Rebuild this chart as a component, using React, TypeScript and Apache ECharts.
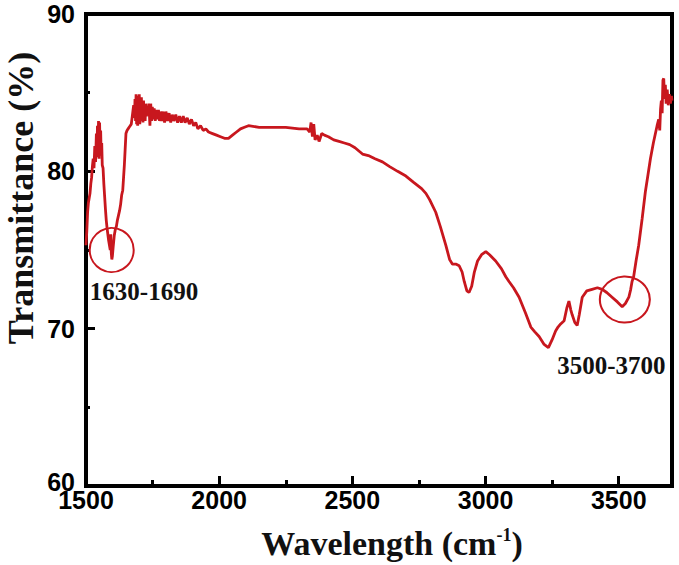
import React, { useEffect, useRef } from "react";
import * as echarts from "echarts";

// Spectrum (wavenumber, cm-1) and transmittance (%)
const WAVENUMBERS: number[] = [
  1500, 1503, 1506, 1509, 1512, 1515, 1518, 1521, 1524, 1527, 1530, 1533, 1536, 1539, 1541, 1543, 1545, 1547, 1549, 1551,
  1553, 1555, 1557, 1559, 1561, 1564, 1567, 1570, 1573, 1576, 1579, 1582, 1585, 1588, 1591, 1593, 1595, 1597, 1599, 1602,
  1606, 1610, 1614, 1618, 1622, 1626, 1630, 1634, 1638, 1641, 1644, 1647, 1650, 1654, 1658, 1662, 1666, 1670, 1673, 1676,
  1679, 1682, 1684, 1686, 1688, 1690, 1692, 1694, 1696, 1698, 1700, 1702, 1704, 1706, 1708, 1710, 1712, 1714, 1716, 1718,
  1720, 1722, 1724, 1727, 1730, 1733, 1736, 1740, 1743, 1746, 1749, 1752, 1756, 1760, 1764, 1768, 1772, 1776, 1780, 1785,
  1790, 1795, 1800, 1806, 1812, 1818, 1824, 1830, 1837, 1844, 1851, 1858, 1865, 1872, 1880, 1888, 1896, 1904, 1912, 1920,
  1930, 1940, 1950, 1960, 1975, 1990, 2005, 2020, 2035, 2050, 2065, 2080, 2095, 2110, 2150, 2200, 2250, 2300, 2330, 2340,
  2345, 2350, 2355, 2360, 2368, 2375, 2385, 2395, 2410, 2430, 2450, 2470, 2490, 2510, 2538, 2560, 2585, 2613, 2640, 2670,
  2701, 2730, 2760, 2776, 2790, 2813, 2830, 2851, 2865, 2876, 2890, 2901, 2912, 2920, 2930, 2938, 2948, 2958, 2970, 2985,
  3001, 3015, 3038, 3060, 3076, 3088, 3105, 3126, 3150, 3170, 3185, 3201, 3220, 3236, 3250, 3263, 3272, 3282, 3295, 3305,
  3313, 3320, 3325, 3335, 3344, 3352, 3363, 3380, 3400, 3420, 3438, 3455, 3475, 3495, 3513, 3525, 3538, 3545, 3550, 3556,
  3565, 3575, 3588, 3600, 3610, 3619, 3630, 3644, 3650, 3654, 3657, 3660, 3663, 3666, 3669, 3672, 3675, 3678, 3682, 3686,
  3690, 3694, 3698, 3700,
];
const TRANSMITTANCE: number[] = [
  75.3, 76.2, 77.4, 78.0, 78.3, 78.6, 79.2, 79.6, 80.3, 80.8, 80.2, 81.6, 80.6, 82.4, 80.9, 82.9, 81.2, 83.2, 80.8, 83.1,
  81.4, 82.6, 81.0, 81.8, 80.4, 80.2, 79.2, 78.4, 77.6, 76.9, 76.4, 76.0, 75.6, 75.3, 75.0, 76.0, 74.8, 74.4, 74.6, 75.2,
  75.9, 76.3, 76.5, 76.9, 77.2, 77.5, 77.9, 78.5, 78.8, 79.6, 80.4, 81.4, 82.4, 82.6, 82.7, 82.8, 82.9, 83.0, 83.4, 83.8,
  84.2, 83.4, 84.6, 83.2, 84.9, 83.0, 84.8, 82.9, 84.7, 83.1, 84.9, 83.0, 84.6, 83.2, 84.7, 83.3, 84.4, 83.1, 84.5, 83.4,
  84.2, 83.2, 84.3, 83.5, 84.1, 83.6, 84.3, 82.9, 84.3, 83.2, 84.1, 83.3, 84.0, 83.2, 83.9, 83.3, 83.9, 83.2, 83.8, 83.2,
  83.8, 83.1, 83.8, 83.2, 83.7, 83.1, 83.6, 83.2, 83.6, 83.1, 83.5, 83.1, 83.5, 83.1, 83.4, 83.0, 83.3, 82.9, 83.1, 82.7,
  82.9, 82.6, 82.7, 82.5, 82.4, 82.3, 82.2, 82.1, 82.1, 82.3, 82.5, 82.7, 82.8, 82.9, 82.8, 82.8, 82.8, 82.7, 82.7, 82.5,
  83.1, 82.2, 83.0, 82.0, 82.3, 81.9, 82.4, 82.3, 82.2, 82.0, 81.9, 81.8, 81.7, 81.5, 81.1, 81.0, 80.8, 80.6, 80.3, 80.0,
  79.7, 79.3, 78.9, 78.6, 78.2, 77.4, 76.5, 75.3, 74.4, 74.1, 74.1, 74.0, 73.6, 73.0, 72.4, 72.3, 72.7, 73.6, 74.3, 74.7,
  74.9, 74.7, 74.3, 73.8, 73.3, 73.0, 72.6, 72.0, 71.0, 70.1, 69.8, 69.5, 69.0, 68.8, 69.3, 69.85, 70.1, 70.3, 70.5, 71.3,
  71.75, 71.2, 70.9, 70.4, 70.2, 70.9, 72.0, 72.4, 72.5, 72.6, 72.5, 72.3, 72.0, 71.7, 71.4, 71.6, 72.0, 72.5, 73.0, 73.3,
  74.3, 75.3, 77.0, 78.7, 79.8, 80.8, 81.8, 82.9, 83.3, 82.6, 83.95, 84.5, 83.7, 85.8, 85.9, 84.6, 85.5, 84.3, 85.2, 84.2,
  84.9, 84.3, 84.8, 84.5,
];

// Annotation circles (data coordinates) and labels
const CIRCLE_X: number[] = [1596.5, 3523];
const CIRCLE_Y: number[] = [75.0, 71.85];
const LABEL_TEXT: string[] = ["1630-1690", "3500-3700"];
const LABEL_X: number[] = [1717.7, 3472.5];
const LABEL_Y: number[] = [72.34, 67.67];

const RED = "#c8171e";
const SANS = '"Liberation Sans", Arial, sans-serif';
const SERIF = '"Liberation Serif", "Times New Roman", serif';

export default function App() {
  const ref = useRef<HTMLDivElement>(null);

  useEffect(() => {
    if (!ref.current) return;
    const chart = echarts.init(ref.current, undefined, { renderer: "svg" });
    const lineData = WAVENUMBERS.map((x, i) => [x, TRANSMITTANCE[i]]);
    const circleSizes = [
      [44, 44],
      [50, 46],
    ];
    const circleData = CIRCLE_X.map((x, i) => ({ value: [x, CIRCLE_Y[i]], symbolSize: circleSizes[i] }));
    const labelData = LABEL_X.map((x, i) => ({ name: LABEL_TEXT[i], value: [x, LABEL_Y[i]] }));

    chart.setOption({
      animation: false,
      backgroundColor: "#ffffff",
      grid: {
        left: 86,
        right: 7,
        top: 14,
        bottom: 76,
        show: true,
        borderColor: "#000",
        borderWidth: 4,
        backgroundColor: "transparent",
      },
      xAxis: [
        {
          type: "value",
          position: "bottom",
          min: 1500,
          max: 3700,
          interval: 500,
          axisLine: { show: true, lineStyle: { color: "#000", width: 4 } },
          axisTick: { show: true, inside: true, length: 10, lineStyle: { color: "#000", width: 3 } },
          axisLabel: {
            show: true,
            showMaxLabel: false,
            margin: 4,
            lineHeight: 20,
            color: "#000",
            fontSize: 25,
            fontWeight: "bold",
            fontFamily: SANS,
            formatter: (v: number) => String(v),
          },
          splitLine: { show: false },
          name: "Wavelength (cm{sup|-1})",
          nameLocation: "middle",
          nameGap: 40,
          nameTextStyle: {
            color: "#111",
            fontSize: 34,
            fontWeight: "bold",
            fontFamily: SERIF,
            padding: [0, 0, 0, 26],
            rich: {
              sup: {
                fontSize: 18,
                fontWeight: "bold",
                fontFamily: SERIF,
                color: "#111",
                verticalAlign: "top",
                padding: [0, 0, 14, 0],
              },
            },
          },
        },
        {
          type: "value",
          position: "bottom",
          min: 1500,
          max: 3700,
          interval: 250,
          axisLine: { show: false },
          axisTick: { show: true, inside: true, length: 6, lineStyle: { color: "#000", width: 3 } },
          axisLabel: { show: false },
          splitLine: { show: false },
        },
      ],
      yAxis: {
        type: "value",
        min: 60,
        max: 90,
        interval: 10,
        axisLine: { show: true, lineStyle: { color: "#000", width: 4 } },
        axisTick: { show: true, inside: true, length: 9, lineStyle: { color: "#000", width: 3 } },
        minorTick: { show: true, splitNumber: 2, length: 4, lineStyle: { color: "#000", width: 3 } },
        axisLabel: {
          margin: 11,
          color: "#000",
          fontSize: 25,
          fontWeight: "bold",
          fontFamily: SANS,
          formatter: (v: number) => (v === 60 ? "{low|" + v + "}" : String(v)),
          rich: {
            low: {
              color: "#000",
              fontSize: 25,
              fontWeight: "bold",
              fontFamily: SANS,
              lineHeight: 16,
              padding: [0, 0, 8, 0],
            },
          },
        },
        splitLine: { show: false },
        minorSplitLine: { show: false },
      },
      graphic: [
        {
          type: "text",
          x: 21,
          y: 198,
          rotation: Math.PI / 2,
          style: {
            text: "Transmittance (%)",
            fill: "#111",
            fontSize: 36,
            fontWeight: "bold",
            fontFamily: SERIF,
            align: "center",
            verticalAlign: "middle",
            textAlign: "center",
            textVerticalAlign: "middle",
          },
        },
      ],
      series: [
        {
          type: "line",
          xAxisIndex: 0,
          data: lineData,
          showSymbol: false,
          symbol: "none",
          lineStyle: { color: RED, width: 2.8 },
          silent: true,
          z: 3,
        },
        {
          type: "scatter",
          xAxisIndex: 0,
          data: circleData,
          symbol: "circle",
          itemStyle: { color: "rgba(0,0,0,0)", borderColor: RED, borderWidth: 2, opacity: 1 },
          silent: true,
          z: 4,
        },
        {
          type: "scatter",
          xAxisIndex: 0,
          data: labelData,
          symbolSize: 1,
          itemStyle: { color: "rgba(0,0,0,0)", opacity: 1 },
          label: {
            show: true,
            position: "inside",
            formatter: (p: any) => p.name,
            color: "#111",
            opacity: 1,
            fontSize: 25,
            fontWeight: "bold",
            fontFamily: SERIF,
          },
          silent: true,
          z: 5,
        },
      ],
    });
    return () => chart.dispose();
  }, []);

  return <div ref={ref} style={{ width: 679, height: 565, position: "absolute", left: 0, top: 0 }} />;
}
